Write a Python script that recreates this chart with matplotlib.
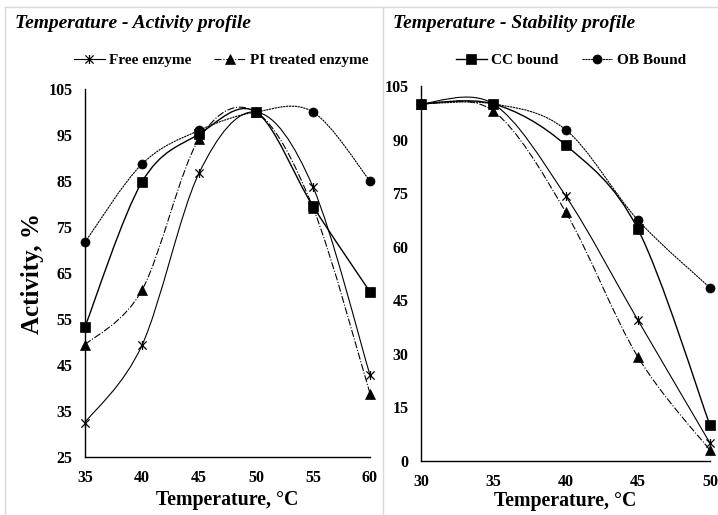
import matplotlib
matplotlib.use("Agg")
import matplotlib.pyplot as plt
from matplotlib.path import Path
from matplotlib.patches import PathPatch
from matplotlib.lines import Line2D

plt.rcParams['font.family'] = ['Liberation Serif', 'DejaVu Serif']
plt.rcParams['font.weight'] = 'bold'

# temperature - activity profile
act_temp = [35, 40, 45, 50, 55, 60]
act_free = [32.5, 49.3, 86.7, 100, 83.7, 42.8]
act_pi = [49.4, 61.3, 94.1, 100, 79.2, 38.8]
act_cc = [53.3, 84.8, 95.2, 100, 79.5, 60.9]
act_ob = [71.7, 88.7, 96.0, 100, 100, 85.0]

# temperature - stability profile
stab_temp = [30, 35, 40, 45, 50]
stab_free = [100, 100, 74.3, 39.5, 5.0]
stab_pi = [100, 98.0, 69.8, 29.2, 3.0]
stab_cc = [100, 100, 88.5, 65.0, 10.0]
stab_ob = [100, 100, 92.8, 67.5, 48.5]

M, L = Path.MOVETO, Path.LINETO
star = Path([(-1, -1), (1, 1), (-1, 1), (1, -1), (0, -1.1), (0, 1.1)],
            [M, L, M, L, M, L])

styles = {
    "Free enzyme": dict(marker=star, ls="-", lw=0.8, ms=6.5, mew=0.9),
    "PI treated enzyme": dict(marker="^", ls="-.", lw=0.8, ms=6.5, mew=0.5),
    "CC bound": dict(marker="s", ls="-", lw=1.0, ms=6.5, mew=0.5),
    "OB Bound": dict(marker="o", ls=(0, (2, 0.6)), lw=0.8, ms=6.5, mew=0.5),
}


def smooth_path(xs, ys):
    # Bezier path through the points (like Excel's smoothed line)
    pts = list(zip(xs, ys))
    n = len(pts)
    verts = [pts[0]]
    codes = [Path.MOVETO]
    for i in range(n - 1):
        p0 = pts[i - 1] if i > 0 else pts[i]
        p1 = pts[i]
        p2 = pts[i + 1]
        p3 = pts[i + 2] if i + 2 < n else pts[i + 1]
        c1 = (p1[0] + (p2[0] - p0[0]) / 6, p1[1] + (p2[1] - p0[1]) / 6)
        c2 = (p2[0] - (p3[0] - p1[0]) / 6, p2[1] - (p3[1] - p1[1]) / 6)
        verts += [c1, c2, p2]
        codes += [Path.CURVE4] * 3
    return Path(verts, codes)


def draw(ax, x, y, name):
    st = styles[name]
    ax.add_patch(PathPatch(smooth_path(x, y), fill=False, ec="black",
                           lw=st["lw"], ls=st["ls"], clip_on=False, zorder=2))
    ax.plot(x, y, ls="none", marker=st["marker"], ms=st["ms"], mew=st["mew"],
            color="black", mfc="black", clip_on=False, zorder=3)


def handle(name):
    st = styles[name]
    return Line2D([], [], color="black", lw=st["lw"], ls=st["ls"],
                  marker=st["marker"], ms=st["ms"], mew=st["mew"], label=name)


def style_axes(ax):
    for s in ["top", "right"]:
        ax.spines[s].set_visible(False)
    for s in ["left", "bottom"]:
        ax.spines[s].set_linewidth(1.0)
    ax.tick_params(length=0, labelsize=11.5, pad=9)
    for lab in ax.get_xticklabels() + ax.get_yticklabels():
        lab.set_fontweight("bold")


fig = plt.figure(figsize=(7.18, 5.15), dpi=100)

ax1 = fig.add_axes([85 / 718, 1 - 457 / 515, 285 / 718, 368 / 515])
for name, y in [("Free enzyme", act_free), ("PI treated enzyme", act_pi),
                ("CC bound", act_cc), ("OB Bound", act_ob)]:
    draw(ax1, act_temp, y, name)
ax1.set_xlim(35, 60)
ax1.set_ylim(25, 105)
ax1.set_xticks(range(35, 61, 5))
ax1.set_yticks(range(25, 106, 10))
style_axes(ax1)
ax1.set_xlabel("Temperature, °C", fontsize=14.3, fontweight="bold", labelpad=3)
ax1.set_ylabel("Activity, %", fontsize=18, fontweight="bold", labelpad=3)

ax2 = fig.add_axes([421 / 718, 1 - 461 / 515, 289 / 718, 375 / 515])
for name, y in [("Free enzyme", stab_free), ("PI treated enzyme", stab_pi),
                ("CC bound", stab_cc), ("OB Bound", stab_ob)]:
    draw(ax2, stab_temp, y, name)
ax2.set_xlim(30, 50)
ax2.set_ylim(0, 105)
ax2.set_xticks(range(30, 51, 5))
ax2.set_yticks(range(0, 106, 15))
style_axes(ax2)
ax2.set_xlabel("Temperature, °C", fontsize=14.3, fontweight="bold", labelpad=1)

leg_kw = dict(loc="center", ncol=2, frameon=False, fontsize=11,
              handlelength=2.0, columnspacing=1.5, handletextpad=0.3,
              bbox_transform=fig.transFigure)
ax1.legend(handles=[handle("Free enzyme"), handle("PI treated enzyme")],
           bbox_to_anchor=(221 / 718, 1 - 60 / 515), **leg_kw)
ax2.legend(handles=[handle("CC bound"), handle("OB Bound")],
           bbox_to_anchor=(571 / 718, 1 - 60 / 515), **leg_kw)

fig.text(15 / 718, 1 - 23 / 515, "Temperature - Activity profile",
         fontsize=14, fontweight="bold", style="italic", va="center")
fig.text(393 / 718, 1 - 23 / 515, "Temperature - Stability profile",
         fontsize=14, fontweight="bold", style="italic", va="center")

# panel borders
grey = "#d9d9d9"
fig.add_artist(Line2D([5 / 718, 1], [1 - 7 / 515] * 2, color=grey, lw=1))
fig.add_artist(Line2D([5 / 718] * 2, [0, 1 - 7 / 515], color=grey, lw=1))
fig.add_artist(Line2D([383 / 718] * 2, [0, 1 - 7 / 515], color=grey, lw=1))

fig.savefig("out.png", dpi=100)
